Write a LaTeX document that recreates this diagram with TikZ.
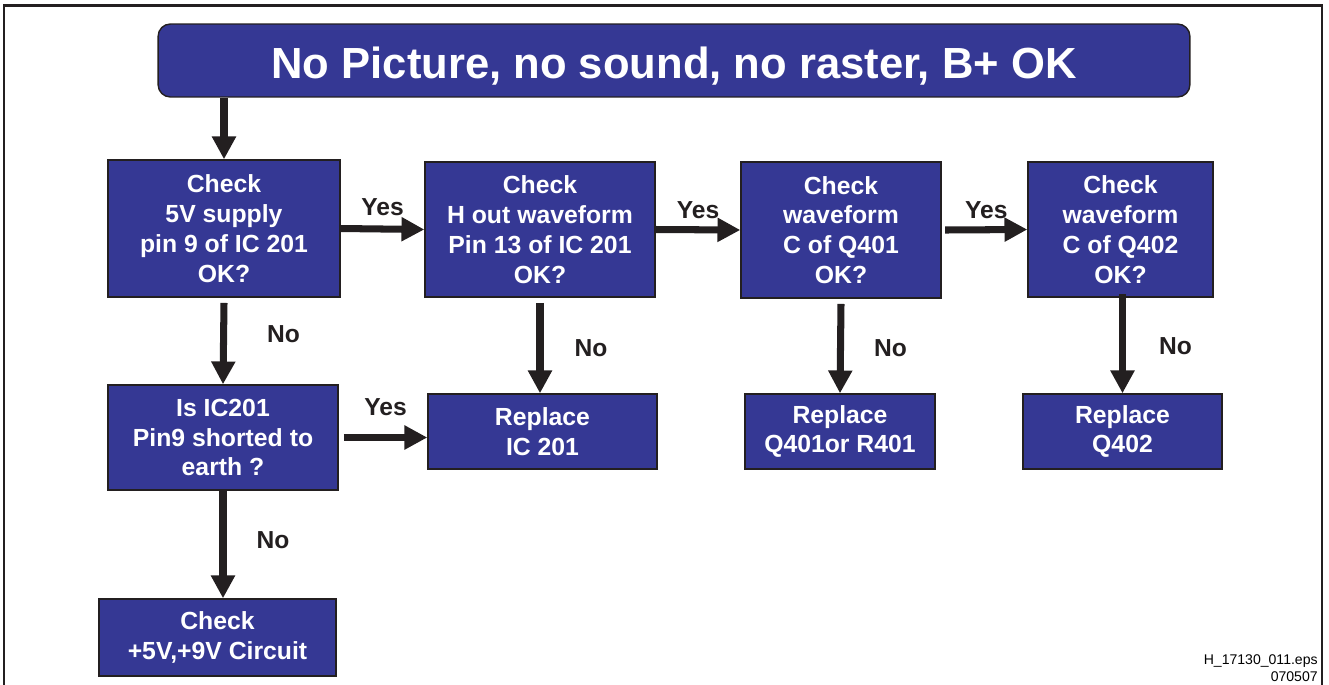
\documentclass[tikz,border=0pt]{standalone}
\usepackage{fontspec}
\setmainfont{Liberation Sans}
\usetikzlibrary{arrows.meta,positioning}
\definecolor{flowblue}{RGB}{53,56,148}
\definecolor{flowink}{RGB}{35,31,32}
\tikzset{
  flow box/.style={
    rectangle, draw=flowink, line width=0.8pt,
    fill=flowblue, text=white, align=center,
    inner sep=0pt, font=\fontsize{14.1}{17}\selectfont\bfseries
  },
  title box/.style={flow box, rounded corners=7pt,
    font=\fontsize{24.8}{28}\selectfont\bfseries},
  flow arrow/.style={-{Triangle[length=13pt,width=13pt]}, line width=4pt, flowink},
  answer/.style={font=\fontsize{14}{17}\selectfont\bfseries, text=flowink, inner sep=0pt}
}

\begin{document}
\begin{tikzpicture}[x=0.02cm, y=-0.02cm]
    \useasboundingbox (0,0) rectangle (1329,684);
    \draw[line width=1.2pt, flowink] (4,5.5) rectangle (1322,720);
    \node[title box, minimum width=20.64cm, minimum height=1.46cm,
      text height=0.9cm, text depth=0.18cm] (title) at (674,60.5)
      {No Picture, no sound, no raster, B+ OK};
    % top row: checks
    \node[flow box, minimum width=4.64cm, minimum height=2.74cm] (check5v) at (224,228.5)
      {Check\\5V supply\\pin 9 of IC 201\\OK?};
    \node[flow box, minimum width=4.6cm, minimum height=2.7cm] (hout) at (540,229.5)
      {Check\\H out waveform\\Pin 13 of IC 201\\OK?};
    \node[flow box, minimum width=4.0cm, minimum height=2.72cm] (q401) at (841,230)
      {Check\\waveform\\C of Q401\\OK?};
    \node[flow box, minimum width=3.7cm, minimum height=2.7cm] (q402) at (1120.5,229.5)
      {Check\\waveform\\C of Q402\\OK?};
    % second row
    \node[flow box, minimum width=4.6cm, minimum height=2.1cm] (shorted) at (223,437.5)
      {Is IC201\\Pin9 shorted to\\earth ?};
    \node[flow box, minimum width=4.58cm, minimum height=1.5cm] (replic) at (542.5,431.5)
      {Replace\\IC 201};
    \node[flow box, minimum width=3.8cm, minimum height=1.5cm] (replq401) at (840,431.5)
      {Replace\\Q401or R401};
    \node[flow box, minimum width=3.98cm, minimum height=1.5cm] (replq402) at (1122.5,431.5)
      {Replace\\Q402};
    \node[flow box, minimum width=4.74cm, minimum height=1.54cm] (circuit) at (217.5,637.5)
      {Check\\+5V,+9V Circuit};
    \node[anchor=south east, align=right, inner sep=0pt,
      font=\fontsize{8}{9.5}\selectfont] (fileref) at (1318,682)
      {H\_17130\_011.eps\\070507};
    % connectors
    \draw[flow arrow] (title.south -| check5v.north) -- (check5v.north);
    \draw[flow arrow] (check5v.east) -- node[answer, midway, yshift=0.44cm] {Yes} (hout.west);
    \draw[flow arrow] (hout.east) -- node[answer, midway, yshift=0.4cm] {Yes} (q401.west);
    \draw[flow arrow] ([xshift=2pt]q401.east) -- node[answer, midway, yshift=0.4cm] {Yes} (q402.west);
    \draw[flow arrow] ([xshift=3pt]shorted.east) -- node[answer, midway, yshift=0.6cm] {Yes} (replic.west |- shorted.east);
    \draw[flow arrow] ([yshift=-3pt]check5v.south) -- node[answer, midway, xshift=1.2cm, yshift=0.18cm] {No} (shorted.north);
    \draw[flow arrow] ([yshift=-3pt]hout.south) -- node[answer, midway, xshift=1.02cm] {No} (replic.north -| hout.south);
    \draw[flow arrow] ([yshift=-3pt]q401.south) -- node[answer, midway, xshift=1.0cm] {No} (replq401.north);
    \draw[flow arrow] ([yshift=2pt]q402.south -| replq402.north) -- node[answer, midway, xshift=1.06cm, yshift=-0.04cm] {No} (replq402.north);
    \draw[flow arrow] (shorted.south) -- node[answer, midway, xshift=1.0cm, yshift=0.08cm] {No} (circuit.north -| shorted.south);
\end{tikzpicture}
\end{document}
